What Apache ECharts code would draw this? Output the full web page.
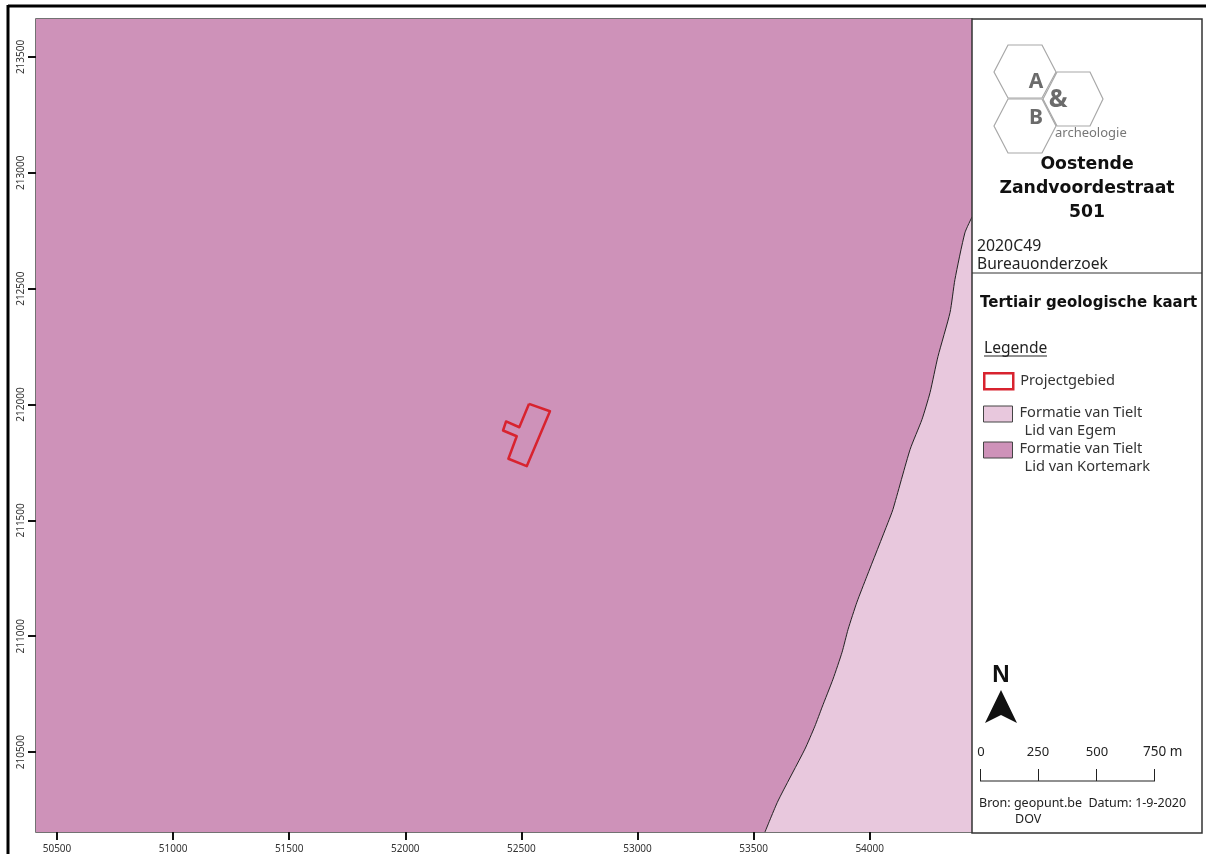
<!DOCTYPE html>
<html><head><meta charset="utf-8">
<style>html,body{margin:0;padding:0;background:#fff}#c{width:1206px;height:854px}</style>
<script src="https://cdn.jsdelivr.net/npm/echarts@6/dist/echarts.min.js"></script>
</head><body><div id="c"></div>
<script>
const xTicks=[50500,51000,51500,52000,52500,53000,53500,54000];
const yTicks=[210500,211000,211500,212000,212500,213000,213500];
const xRange=[50409.6,54440.6];
const yRange=[210155.2,213663.8];
const nameProject='Projectgebied';
const nameEgem='Formatie van Tielt\n  Lid van Egem';
const nameKortemark='Formatie van Tielt\n  Lid van Kortemark';
const kortemarkEdge=[[50409.6,213663.8],[54440.6,213663.8]];
const egemBoundary=[[53549,210155],[53605,210289],[53721,210513],[53764,210612],[53795,210694],[53842,210815],[53881,210931],[53907,211030],[53945,211147],[53988,211259],[54079,211491],[54100,211547],[54174,211806],[54225,211935],[54260,212052],[54294,212207],[54346,212397],[54367,212539],[54410,212741],[54441,212810]];
const projectOutline=[[52533,212003],[52623,211971],[52523,211734],[52444,211766],[52480,211863],[52421,211888],[52434,211927],[52491,211902],[52533,212003]];
const DARK='#CE92B9',LIGHT='#E8C8DD',RED='#D8232F';
const SANS='"Noto Sans","DejaVu Sans",sans-serif',BOLD='"DejaVu Sans",sans-serif';
function txt(x,y,text,size,o){o=o||{};return {type:'text',x:x,y:y,z:20,style:{text:text,font:(o.bold?'bold ':'')+size+'px '+(o.family||(o.bold?BOLD:SANS)),fill:o.fill||'#222',textAlign:o.align||'left',textVerticalAlign:'middle'}};}
function ln(x1,y1,x2,y2,c,w){return {type:'line',z:20,shape:{x1:x1,y1:y1,x2:x2,y2:y2},style:{stroke:c||'#222',lineWidth:w||1}};}
function poly(p,c){return {type:'polygon',z:19,shape:{points:p},style:{fill:'none',stroke:c||'#a8a8a8',lineWidth:1.2}};}
const graphics=[
 {type:'rect',z:18,shape:{x:972,y:19,width:230,height:814},style:{fill:'#fff',stroke:'#333',lineWidth:1.5}},
 ln(8,6,1206,6,'#000',3),ln(8,5,8,854,'#000',3),ln(972,273,1202,273,'#333',1),
 poly([[994,72],[1008,45],[1042,45],[1056,72],[1042,98],[1008,98]]),
 poly([[1043,99],[1057,72],[1090,72],[1103,99],[1090,126],[1057,126]]),
 poly([[994,126],[1008,99],[1042,99],[1056,126],[1042,153],[1008,153]]),
 txt(1036,82,'A',21,{bold:true,family:SANS,fill:'#6b6b6b',align:'center'}),
 txt(1058,100,'&',25,{bold:true,family:SANS,fill:'#6b6b6b',align:'center'}),
 txt(1036,118,'B',21,{bold:true,family:SANS,fill:'#6b6b6b',align:'center'}),
 txt(1055,133,'archeologie',13,{fill:'#777'}),
 txt(1087,165,'Oostende',17.3,{bold:true,align:'center',fill:'#111'}),
 txt(1087,189,'Zandvoordestraat',17.3,{bold:true,align:'center',fill:'#111'}),
 txt(1087,213,'501',17.3,{bold:true,align:'center',fill:'#111'}),
 txt(977,246,'2020C49',15.8),txt(977,265,'Bureauonderzoek',15.6),
 txt(980,303,'Tertiair geologische kaart',15,{bold:true,fill:'#111'}),
 txt(984,349,'Legende',15.6),ln(984,356,1047,356,'#222',1),
 txt(1001,675,'N',24,{bold:true,family:'"Liberation Sans",sans-serif',align:'center',fill:'#111'}),
 {type:'polygon',z:20,shape:{points:[[1001,690],[1017,723],[1001,715],[985,723]]},style:{fill:'#111'}},
 txt(981,752.5,'0',13,{align:'center'}),txt(1038,752.5,'250',13,{align:'center'}),txt(1097,752.5,'500',13,{align:'center'}),txt(1143,752.5,'750 m',13.5),
 ln(980,781,1155,781,'#222',1.2),ln(980.5,769,980.5,781,'#222',1),ln(1038.5,769,1038.5,781,'#222',1),ln(1096.5,769,1096.5,781,'#222',1),ln(1154.5,769,1154.5,781,'#222',1),
 txt(979,803,'Bron: geopunt.be  Datum: 1-9-2020',12.5),txt(1015,819,'DOV',12.5)
];
const labelBase={fontFamily:SANS,fontSize:14.6,color:'#333',lineHeight:18,height:18};
const richText={s:{lineHeight:15,fontSize:1,height:15},t:{...labelBase,padding:[0,0,0,2]},u:{...labelBase,padding:[0,0,0,7]}};
function legendFor(name,top,style){return {show:true,orient:'vertical',left:983,top:top,padding:0,z:25,itemWidth:29,itemHeight:16,selectedMode:false,
 data:[{name:name,icon:'rect',itemStyle:style}],
 formatter:n=>{const lines=n.split('\n').map(l=>l.startsWith(' ')?'{u|'+l.trim()+'}':'{t|'+l+'}').join('\n');return n.includes('\n')?'{s| }\n'+lines:lines;},
 textStyle:{rich:richText},itemGap:0};}
const chart=echarts.init(document.getElementById('c'),null,{renderer:'canvas'});
chart.setOption({
 animation:false,backgroundColor:'#fff',
 grid:{left:36,top:19,width:936,height:814,show:true,backgroundColor:'transparent',borderColor:'#444',borderWidth:1.5},
 xAxis:{type:'value',min:xRange[0],max:xRange[1],splitLine:{show:false},axisLine:{show:false},
  axisTick:{show:true,customValues:xTicks,length:8,lineStyle:{color:'#111',width:2}},
  axisLabel:{customValues:xTicks,margin:12,fontFamily:SANS,fontSize:10,color:'#333',formatter:v=>String(v)}},
 yAxis:{type:'value',min:yRange[0],max:yRange[1],splitLine:{show:false},axisLine:{show:false},
  axisTick:{show:true,customValues:yTicks,length:8,lineStyle:{color:'#111',width:2}},
  axisLabel:{customValues:yTicks,rotate:90,margin:10,fontFamily:SANS,fontSize:10,color:'#333',formatter:v=>String(v)}},
 legend:[
  legendFor(nameProject,372,{color:'#fff',borderColor:RED,borderWidth:2.5}),
  legendFor(nameEgem,388.5,{color:LIGHT,borderColor:'#444',borderWidth:1}),
  legendFor(nameKortemark,424.5,{color:DARK,borderColor:'#444',borderWidth:1})
 ],
 graphic:graphics,
 series:[
  {name:nameKortemark,type:'line',data:kortemarkEdge,symbol:'none',silent:true,z:1,lineStyle:{width:0,color:DARK},areaStyle:{color:DARK,opacity:1,origin:'start'},itemStyle:{color:DARK}},
  {name:nameEgem,type:'line',data:egemBoundary,symbol:'none',silent:true,z:2,smooth:0.2,lineStyle:{width:1,color:'#222'},areaStyle:{color:LIGHT,opacity:1,origin:'start'},itemStyle:{color:LIGHT}},
  {name:nameProject,type:'line',data:projectOutline,symbol:'none',silent:true,z:3,lineStyle:{width:2.5,color:RED,join:'round'},itemStyle:{color:RED}}
 ]
});
</script></body></html>
